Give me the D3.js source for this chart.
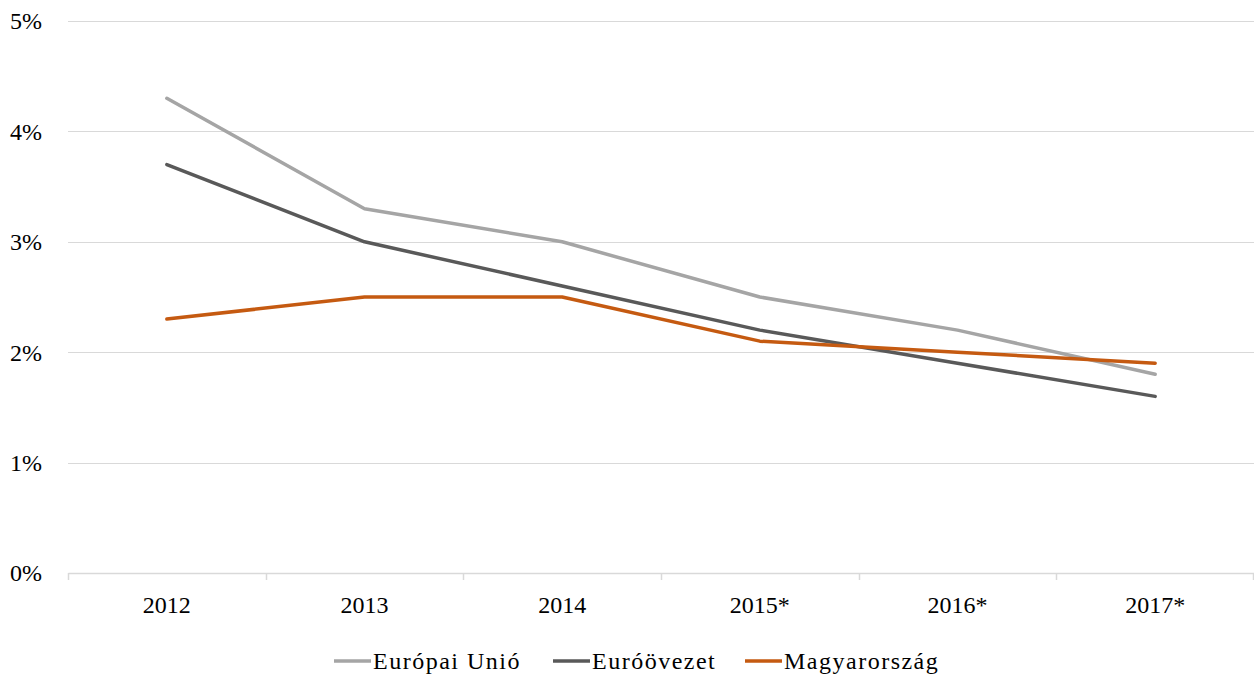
<!DOCTYPE html>
<html>
<head>
<meta charset="utf-8">
<script src="https://cdn.jsdelivr.net/npm/d3@7"></script>
<style>
  body { margin: 0; background: #fff; }
  svg text { font-family: "Palatino Linotype", "Book Antiqua", "Liberation Serif", serif; fill: #000; }
</style>
</head>
<body>
<div id="visual-container"></div>
<script>
const years = ["2012", "2013", "2014", "2015*", "2016*", "2017*"]
const euValues = [4.3, 3.3, 3.0, 2.5, 2.2, 1.8]
const euroValues = [3.7, 3.0, 2.6, 2.2, 1.9, 1.6]
const huValues = [2.3, 2.5, 2.5, 2.1, 2.0, 1.9]
const yTicks = [0, 1, 2, 3, 4, 5]

const seriesNames = ["Európai Unió", "Euróövezet", "Magyarország"]
const seriesColors = ["#a5a5a5", "#595959", "#c55a11"]
const seriesValues = [euValues, euroValues, huValues]

const width = 1254
const height = 677
const plotLeft = 68
const plotRight = 1254
const plotTop = 21
const plotBottom = 573
const fontStack = '"Palatino Linotype", "Book Antiqua", "Liberation Serif", serif'

const svg = d3.select('#visual-container')
  .append('svg')
  .attr('width', width)
  .attr('height', height)

const xScale = d3.scaleBand()
  .domain(years)
  .range([plotLeft, plotRight])

const yScale = d3.scaleLinear()
  .domain([0, 5])
  .range([plotBottom, plotTop])

// gridlines
svg.append('g')
  .selectAll('line')
  .data(yTicks.slice(1))
  .enter()
  .append('line')
  .attr('x1', plotLeft)
  .attr('x2', plotRight)
  .attr('y1', d => Math.round(yScale(d)) + 0.5)
  .attr('y2', d => Math.round(yScale(d)) + 0.5)
  .attr('stroke', '#d9d9d9')
  .attr('stroke-width', 1)

// y labels
svg.append('g')
  .selectAll('text')
  .data(yTicks)
  .enter()
  .append('text')
  .attr('x', 42)
  .attr('y', d => yScale(d))
  .attr('dy', '0.35em')
  .attr('text-anchor', 'end')
  .style('font-size', '24px')
  .text(d => d + '%')

// x axis
const xAxis = d3.axisBottom(xScale).tickSize(0).tickPadding(23)
const xAxisG = svg.append('g')
  .attr('transform', `translate(0, ${plotBottom})`)
  .call(xAxis)
xAxisG.select('.domain').attr('stroke', '#d9d9d9').attr('stroke-width', 1.5)
xAxisG.selectAll('text')
  .style('font-size', '24px')
  .style('font-family', fontStack)
  .attr('fill', '#000')

const boundaries = years.map(y => xScale(y)).concat([plotRight - 1])
svg.append('g')
  .selectAll('line')
  .data(boundaries)
  .enter()
  .append('line')
  .attr('x1', d => Math.round(d) + 0.5)
  .attr('x2', d => Math.round(d) + 0.5)
  .attr('y1', plotBottom)
  .attr('y2', plotBottom + 7)
  .attr('stroke', '#d9d9d9')
  .attr('stroke-width', 1.5)

// lines
const line = d3.line()
  .x((d, i) => xScale(years[i]) + xScale.bandwidth() / 2)
  .y(d => yScale(d))

seriesValues.forEach((vals, i) => {
  svg.append('path')
    .datum(vals)
    .attr('d', line)
    .attr('fill', 'none')
    .attr('stroke', seriesColors[i])
    .attr('stroke-width', 3.5)
    .attr('stroke-linecap', 'round')
    .attr('stroke-linejoin', 'round')
})

// legend
const legendX = [334, 553, 745]
const legendY = 661
const legend = svg.append('g')
  .selectAll('g')
  .data(seriesNames)
  .enter()
  .append('g')
  .attr('transform', (d, i) => `translate(${legendX[i]}, ${legendY})`)

legend.append('line')
  .attr('x1', 0)
  .attr('x2', 37)
  .attr('stroke', (d, i) => seriesColors[i])
  .attr('stroke-width', 3.5)

legend.append('text')
  .attr('x', 39)
  .attr('dy', '0.35em')
  .style('font-size', '24px')
  .style('letter-spacing', '1.5px')
  .text(d => d)
</script>
</body>
</html>
